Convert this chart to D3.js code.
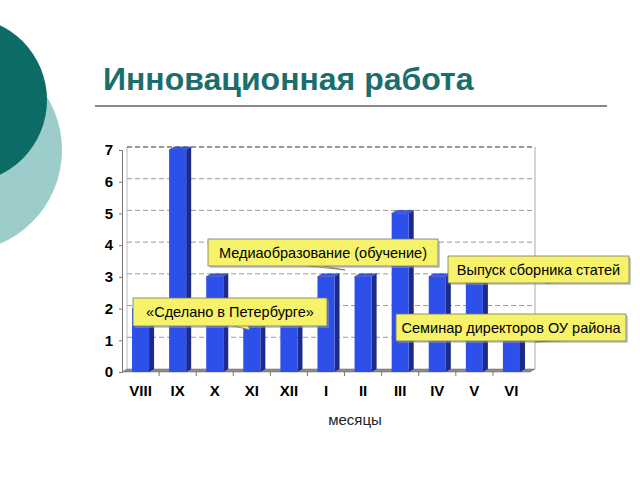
<!DOCTYPE html>
<html><head><meta charset="utf-8">
<script src="https://cdn.jsdelivr.net/npm/d3@7"></script>
<style>body{margin:0;background:#fff}svg{display:block}</style>
</head><body>
<script>
const months = ["VIII","IX","X","XI","XII","I","II","III","IV","V","VI"];
const values = [2,7,3,2,2,3,3,5,3,3,1];
const yTicks = [0,1,2,3,4,5,6,7];
const calloutTexts = ["Медиаобразование (обучение)","«Сделано в Петербурге»","Выпуск сборника статей","Семинар директоров ОУ района"];
const titleText = "Инновационная работа";
const axisTitle = "месяцы";

const W=640,H=480;
const svg=d3.select("body").append("svg").attr("width",W).attr("height",H);
const font="'Liberation Sans', Arial, sans-serif";

// decorative circles
svg.append("circle").attr("cx",-40).attr("cy",150).attr("r",102).attr("fill","#9ccdca");
svg.append("circle").attr("cx",-36).attr("cy",100).attr("r",83).attr("fill","#0d6b66");

// title
svg.append("text").attr("x",103).attr("y",90).text(titleText)
  .attr("font-family",font).attr("font-weight","bold").attr("font-size",32).attr("fill","#1b6e6b");
svg.append("line").attr("x1",95).attr("x2",607).attr("y1",106).attr("y2",106)
  .attr("stroke","#888").attr("stroke-width",2);

const x=d3.scaleBand().domain(months).range([122,530]).paddingInner(0.54).paddingOuter(0.27);
const y=d3.scaleLinear().domain([0,7]).range([372,150]);
const dx=5, dy=-3;
const right=535;

// back wall / gridlines
const g=svg.append("g");
g.append("line").attr("x1",122+dx).attr("x2",122+dx).attr("y1",y(7)+dy).attr("y2",y(0)+dy).attr("stroke","#bbb");
g.append("line").attr("x1",right).attr("x2",right).attr("y1",y(7)+dy).attr("y2",y(0)+dy).attr("stroke","#aaa");
g.selectAll(".grid").data(yTicks.filter(d=>d>0)).join("line")
  .attr("x1",122+dx).attr("x2",right).attr("y1",d=>y(d)+dy).attr("y2",d=>y(d)+dy)
  .attr("stroke",d=>d===7?"#333":"#9a9a9a").attr("stroke-dasharray","5,3");
// floor
g.append("path").attr("d",`M122,${y(0)} L${122+dx},${y(0)+dy} L${right},${y(0)+dy} L${right-dx},${y(0)} Z`)
  .attr("fill","#8c8c8c").attr("stroke","#666").attr("stroke-width",0.5);

// bars
const bw=x.bandwidth();
const bars=svg.append("g").selectAll("g").data(months.map((m,i)=>({m,v:values[i]}))).join("g");
bars.append("path").attr("d",d=>{const x0=x(d.m)+bw,y0=y(d.v),y1=y(0);
  return `M${x0},${y0} L${x0+dx},${y0+dy} L${x0+dx},${y1+dy} L${x0},${y1} Z`;}).attr("fill","#1c2a8a");
bars.append("path").attr("d",d=>{const x0=x(d.m),y0=y(d.v);
  return `M${x0},${y0} L${x0+dx},${y0+dy} L${x0+bw+dx},${y0+dy} L${x0+bw},${y0} Z`;}).attr("fill","#3a5cf0").attr("stroke","#1c2a8a").attr("stroke-width",0.5);
bars.append("rect").attr("x",d=>x(d.m)).attr("y",d=>y(d.v)).attr("width",bw).attr("height",d=>y(0)-y(d.v))
  .attr("fill","#2d50ea");

// y axis
const ya=svg.append("g").attr("transform","translate(122,0)")
  .call(d3.axisLeft(y).tickValues(yTicks).tickSize(3).tickPadding(6).tickFormat(d3.format("d")));
ya.select(".domain").attr("stroke","#777");
ya.selectAll(".tick line").attr("stroke","#777");
ya.selectAll("text").attr("font-family",font).attr("font-weight","bold").attr("font-size",15).attr("fill","#000");

// x axis
const xa=svg.append("g").attr("transform",`translate(0,${y(0)})`)
  .call(d3.axisBottom(x).tickSize(0).tickPadding(13));
xa.select(".domain").remove();
xa.selectAll("text").attr("font-family",font).attr("font-weight","bold").attr("font-size",15).attr("fill","#000");
svg.append("g").selectAll("line").data(months.slice(1)).join("line")
  .attr("x1",d=>x(d)-x.step()*x.paddingInner()/2).attr("x2",d=>x(d)-x.step()*x.paddingInner()/2)
  .attr("y1",y(0)).attr("y2",y(0)+4).attr("stroke","#777");

svg.append("text").attr("x",355).attr("y",425).attr("text-anchor","middle").text(axisTitle)
  .attr("font-family",font).attr("font-size",15).attr("fill","#222");

// callouts
const boxes=[
  {x:208,y:239,w:230,h:27,tx:[300,318],tail:[345,270]},
  {x:133,y:298,w:194,h:28,tx:[230,248],tail:[250,330]},
  {x:448,y:256,w:181,h:27,tx:[560,578],tail:[545,283]},
  {x:396,y:314,w:230,h:27,tx:[560,578],tail:[535,342]}
];
const cg=svg.append("g");
boxes.forEach((b,i)=>{
  const gg=cg.append("g");
  gg.append("rect").attr("x",b.x+2).attr("y",b.y+2).attr("width",b.w).attr("height",b.h).attr("fill","#999").attr("opacity",0.5);
  gg.append("path").attr("d",`M${b.tx[0]},${b.y+b.h-1} L${b.tail[0]},${b.tail[1]} L${b.tx[1]},${b.y+b.h-1} Z`)
    .attr("fill","#f6f26a").attr("stroke","#666").attr("stroke-width",0.7);
  gg.append("rect").attr("x",b.x).attr("y",b.y).attr("width",b.w).attr("height",b.h)
    .attr("fill","#f6f26a").attr("stroke","#777").attr("stroke-width",0.8);
  gg.append("text").attr("x",b.x+b.w/2).attr("y",b.y+b.h/2+5).attr("text-anchor","middle")
    .text(calloutTexts[i]).attr("font-family",font).attr("font-size",14.5).attr("fill","#000");
});
</script>
</body></html>
